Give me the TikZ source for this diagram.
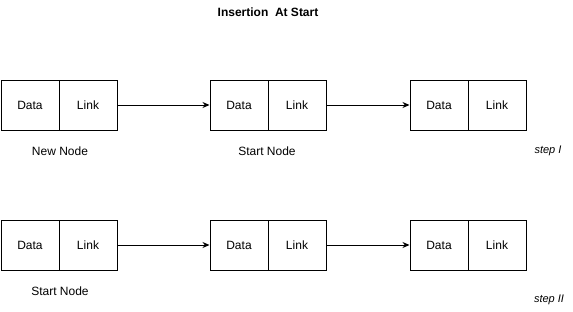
\documentclass[tikz,border=0pt]{standalone}
\usepackage{fontspec}
\setmainfont{Liberation Sans}
\usetikzlibrary{arrows.meta}
\begin{document}
\begin{tikzpicture}[x=1pt,y=-1pt,
  cell/.style={draw, line width=1pt, minimum width=58pt, minimum height=50pt, inner sep=0pt, font=\fontsize{12}{14}\selectfont},
  caption/.style={font=\fontsize{12}{14}\selectfont, inner sep=0pt},
  link/.style={line width=1pt, -{Stealth[length=7pt,width=6pt]}}]
\useasboundingbox (0,0) rectangle (573,311);
\node[font=\bfseries\fontsize{12}{14}\selectfont, inner sep=0pt] (title) at (268,12) {Insertion\ \ At Start};

% first row: new node placed before the old start
\node[cell] (d1) at (30,105) {Data};
\node[cell] (l1) at (88,105) {Link};
\node[cell] (d2) at (239,105) {Data};
\node[cell] (l2) at (297,105) {Link};
\node[cell] (d3) at (439,105) {Data};
\node[cell] (l3) at (497,105) {Link};
\draw[link] (l1.east) -- (d2.west);
\draw[link] (l2.east) -- (d3.west);
\node[caption] (n1) at (60,151) {New Node};
\node[caption] (n2) at (267,151) {Start Node};
\node[caption, font=\itshape\fontsize{11}{13}\selectfont] (s1) at (548,151) {step I};

% second row: the new node is now the start
\node[cell] (e1) at (30,245) {Data};
\node[cell] (m1) at (88,245) {Link};
\node[cell] (e2) at (239,245) {Data};
\node[cell] (m2) at (297,245) {Link};
\node[cell] (e3) at (439,245) {Data};
\node[cell] (m3) at (497,245) {Link};
\draw[link] (m1.east) -- (e2.west);
\draw[link] (m2.east) -- (e3.west);
\node[caption] (n3) at (60,291) {Start Node};
\node[caption, font=\itshape\fontsize{11}{13}\selectfont] (s2) at (549,300) {step II};
\end{tikzpicture}
\end{document}
